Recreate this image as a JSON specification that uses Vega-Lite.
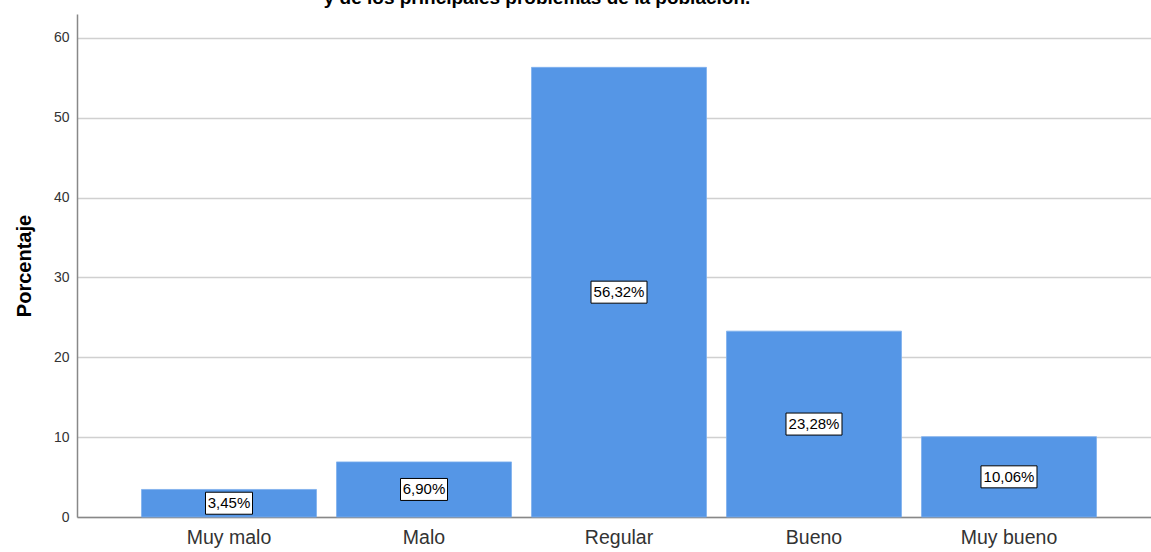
{
  "$schema": "https://vega.github.io/schema/vega-lite/v6.json",
  "width": 1074,
  "height": 503,
  "autosize": {"type": "none"},
  "padding": {"left": 77, "top": 14, "right": 0, "bottom": 35},
  "background": "white",
  "title": {
    "text": "y de los principales problemas de la población.",
    "fontSize": 19,
    "fontWeight": "bold",
    "font": "Liberation Sans",
    "color": "#000000",
    "anchor": "middle",
    "dx": -77,
    "offset": 6
  },
  "data": {
    "values": [
      {"categoria": "Muy malo", "porcentaje": 3.45, "label": "3,45%"},
      {"categoria": "Malo", "porcentaje": 6.90, "label": "6,90%"},
      {"categoria": "Regular", "porcentaje": 56.32, "label": "56,32%"},
      {"categoria": "Bueno", "porcentaje": 23.28, "label": "23,28%"},
      {"categoria": "Muy bueno", "porcentaje": 10.06, "label": "10,06%"}
    ]
  },
  "encoding": {
    "x": {
      "field": "categoria",
      "type": "nominal",
      "sort": null,
      "scale": {"range": [0, 1084], "paddingInner": 0.1026, "paddingOuter": 0.3308},
      "axis": {
        "title": null,
        "labelAngle": 0,
        "labelFontSize": 19.5,
        "labelFont": "Liberation Sans",
        "labelColor": "#333333",
        "labelPadding": 11,
        "ticks": false,
        "domainColor": "#888888",
        "domainWidth": 1.5,
        "grid": false
      }
    }
  },
  "layer": [
    {
      "mark": {"type": "bar", "color": "#5596e6", "stroke": "#7fb0ee", "strokeWidth": 0.8},
      "encoding": {
        "y": {
          "field": "porcentaje",
          "type": "quantitative",
          "scale": {"domain": [0, 63], "nice": false},
          "axis": {
            "title": "Porcentaje",
            "titleFontSize": 20,
            "titleFont": "Liberation Sans",
            "titleFontWeight": "bold",
            "titleColor": "#000000",
            "titlePadding": 19,
            "values": [0, 10, 20, 30, 40, 50, 60],
            "labelFontSize": 14,
            "labelFont": "Liberation Sans",
            "labelColor": "#333333",
            "labelPadding": 8,
            "ticks": false,
            "domainColor": "#888888",
            "domainWidth": 1.5,
            "grid": true,
            "gridColor": "#d0d0d0",
            "gridWidth": 1.5
          }
        }
      }
    },
    {
      "mark": {"type": "point", "filled": true, "fill": "white", "stroke": "black", "strokeWidth": 1, "opacity": 1},
      "encoding": {
        "y": {"field": "porcentaje", "type": "quantitative", "scale": {"domain": [0, 126], "nice": false}, "axis": null},
        "shape": {
          "condition": {"test": "length(datum.label) > 5", "value": "M-1,-0.393L1,-0.393L1,0.393L-1,0.393Z"},
          "value": "M-1,-0.468L1,-0.468L1,0.468L-1,0.468Z"
        },
        "size": {
          "condition": {"test": "length(datum.label) > 5", "value": 3136},
          "value": 2209
        }
      }
    },
    {
      "mark": {"type": "text", "fontSize": 15, "font": "Liberation Sans", "color": "black", "align": "center", "baseline": "middle"},
      "encoding": {
        "y": {"field": "porcentaje", "type": "quantitative", "scale": {"domain": [0, 126], "nice": false}, "axis": null},
        "text": {"field": "label"}
      }
    }
  ],
  "resolve": {"scale": {"y": "independent"}},
  "config": {"view": {"stroke": null}}
}
